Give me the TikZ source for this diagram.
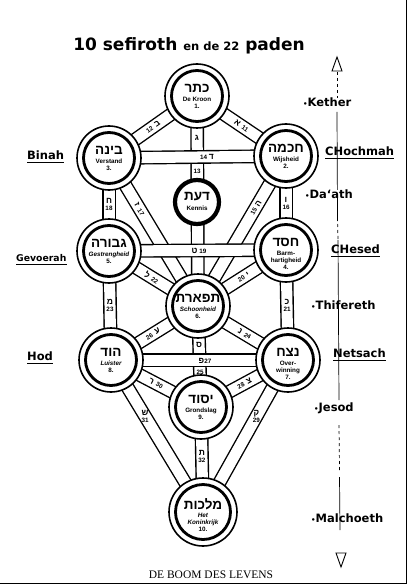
\documentclass[tikz,border=0pt]{standalone}
\usepackage{fontspec}
\setmainfont{Liberation Serif}
\newfontfamily\hebfont[Script=Hebrew]{Liberation Sans}
\newfontfamily\handfont{DejaVu Sans}
\newfontfamily\lblfont{Liberation Sans}
\TeXXeTstate=1
\newcommand\heb[1]{{\hebfont\bfseries\beginR #1\endR}}
\newcommand\hebs[1]{{\fontsize{8.5}{8.5}\selectfont\heb{#1}}}
\newcommand\dotb{{\fontsize{7}{7}\selectfont •}}
\pgfdeclarelayer{bg}
\pgfsetlayers{bg,main}
\tikzset{
  chan/.style={line width=1.4pt, double=white, double distance=11pt},
  ring/.style={circle, draw, line width=1.6pt, fill=white, inner sep=0pt},
  hebn/.style={inner sep=0pt, font=\fontsize{13.5}{13.5}\selectfont},
  nm/.style={inner sep=0pt, align=center, font=\lblfont\bfseries\fontsize{6.3}{7}\selectfont},
  plab/.style={inner sep=0pt, align=center, font=\lblfont\bfseries\fontsize{6.3}{7}\selectfont},
  hand/.style={inner sep=0pt, anchor=west, font=\handfont\bfseries\fontsize{11.5}{14}\selectfont},
  axisline/.style={line width=0.7pt},
  uline/.style={line width=0.9pt},
}
\newcommand\sefira[6]{%
  \node[ring, minimum size=#5] (#1) at (#2) {};
  \draw[line width=2.8pt] (#1.center) circle[radius=#6];
  \node[hebn] (#1-h) at ([yshift=8pt]#1.center) {\heb{#3}};
  \node[nm, anchor=north] (#1-n) at ([yshift=-1pt]#1.center) {#4};
}
\begin{document}
\begin{tikzpicture}[x=1pt,y=-1pt]
\useasboundingbox (0,0) rectangle (408,585);

% sefiroth
\sefira{K}{197,96}{כתר}{De Kroon\\1.}{64pt}{25.5pt}
\sefira{Bi}{109,158}{בינה}{Verstand\\3.}{64pt}{25.5pt}
\sefira{Ch}{286,156}{חכמה}{Wijsheid\\2.}{64pt}{25.5pt}
\sefira{Ge}{109,251}{גבורה}{\itshape Gestrengheid\\5.}{64pt}{25.5pt}
\sefira{He}{286,250}{חסד}{Barm-\\hartigheid\\4.}{64pt}{25.5pt}
\sefira{Ti}{198,306}{תפארת}{\itshape Schoonheid\\6.}{64pt}{25.5pt}
\sefira{Ho}{111,360}{הוד}{\itshape Luister\\8.}{64pt}{25.5pt}
\sefira{Ne}{288,360}{נצח}{Over-\\winning\\7.}{64pt}{25.5pt}
\sefira{Ye}{201,407}{יסוד}{Grondslag\\9.}{64pt}{25.5pt}
\sefira{Ma}{203,512}{מלכות}{\itshape Het\\\itshape Koninkrijk\\10.}{68pt}{27.5pt}
\node[circle, draw, line width=4.2pt, fill=white, minimum size=44pt, inner sep=0pt] (Da) at (197,202) {};
\node[hebn] (Da-h) at ([yshift=5pt]Da.center) {\heb{דעת}};
\node[nm] (Da-n) at ([yshift=-6pt]Da.center) {Kennis};

% channels
\begin{pgfonlayer}{bg}
\draw[chan] (K.center) -- (Ti.center);
\draw[chan] (K.center) -- (Bi.center);
\draw[chan] (K.center) -- (Ch.center);
\draw[chan] (Bi.center) -- (Ti.center);
\draw[chan] (Ch.center) -- (Ti.center);
\draw[chan] (Bi.center) -- (Ch.center);
\draw[chan] (Bi.center) -- (Ge.center);
\draw[chan] (Ch.center) -- (He.center);
\draw[chan] (Ge.center) -- (Ti.center);
\draw[chan] (He.center) -- (Ti.center);
\draw[chan] (Ge.center) -- (He.center);
\draw[chan] (Ge.center) -- (Ho.center);
\draw[chan] (He.center) -- (Ne.center);
\draw[chan] (Ti.center) -- (Ho.center);
\draw[chan] (Ti.center) -- (Ne.center);
\draw[chan] (Ti.center) -- (Ye.center);
\draw[chan] (Ho.center) -- (Ne.center);
\draw[chan] (Ho.center) -- (Ye.center);
\draw[chan] (Ne.center) -- (Ye.center);
\draw[chan] (Ho.center) -- (Ma.center);
\draw[chan] (Ne.center) -- (Ma.center);
\draw[chan] (Ye.center) -- (Ma.center);
\end{pgfonlayer}

% path labels
\path (K) -- node[plab, pos=.5, sloped] (p11) {\hebs{א}\enspace 11} (Ch);
\path (Bi) -- node[plab, pos=.5, sloped] (p12) {12\enspace\hebs{ב}} (K);
\node[plab] (p13a) at (197,138) {\hebs{ג}};
\node[plab] (p13b) at (197,171) {13};
\node[plab] (p14) at (207,157) {14\;\hebs{ד}};
\path (Ch) -- node[plab, pos=.25, sloped] (p15) {15\enspace\hebs{ה}} (Ti);
\path (Ch) -- node[plab, pos=.5] (p16) {\hebs{ו}\\16} (He);
\path (Bi) -- node[plab, pos=.25, sloped] (p17) {\hebs{ז}\enspace 17} (Ti);
\path (Bi) -- node[plab, pos=.5] (p18) {\hebs{ח}\\18} (Ge);
\node[plab] (p19) at (199,251) {\hebs{ט}\;19};
\path (He) -- node[plab, pos=.45, sloped] (p20) {20\enspace\hebs{י}} (Ti);
\path (He) -- node[plab, pos=.5] (p21) {\hebs{כ}\\21} (Ne);
\path (Ge) -- node[plab, pos=.45, sloped] (p22) {\hebs{ל}\enspace 22} (Ti);
\path (Ge) -- node[plab, pos=.5] (p23) {\hebs{מ}\\23} (Ho);
\path (Ti) -- node[plab, pos=.55, sloped] (p24) {\hebs{נ}\enspace 24} (Ne);
\node[plab] (p25a) at (199,345) {\hebs{ס}};
\node[plab] (p25b) at (200,372) {25};
\path (Ti) -- node[plab, pos=.55, sloped] (p26) {26\enspace\hebs{ע}} (Ho);
\node[plab] (p27) at (205,361) {\hebs{פ}27};
\path (Ne) -- node[plab, pos=.5, sloped] (p28) {28\enspace\hebs{צ}} (Ye);
\path (Ne) -- node[plab, pos=.3] (p29) {\hebs{ק}\\29} (Ma);
\path (Ho) -- node[plab, pos=.5, sloped] (p30) {\hebs{ר}\enspace 30} (Ye);
\path (Ho) -- node[plab, pos=.3] (p31) {\hebs{ש}\\31} (Ma);
\path (Ye) -- node[plab, pos=.45] (p32) {\hebs{ת}\\32} (Ma);

% title
\node[inner sep=0pt, font=\handfont\bfseries] (title) at (189,46)
  {\fontsize{17}{17}\selectfont 10 sefiroth {\fontsize{11.5}{11.5}\selectfont en de 22} paden};

% left labels
\node[hand] (lBi) at (27,155) {Binah};
\node[hand, font=\handfont\bfseries\fontsize{9.3}{11}\selectfont] (lGe) at (16,258) {Gevoerah};
\node[hand] (lHo) at (27,356) {Hod};
\draw[uline] ([yshift=-2.5pt]lBi.south west) -- ([yshift=-2.5pt]lBi.south east);
\draw[uline] ([yshift=-2.5pt]lGe.south west) -- ([yshift=-2.5pt]lGe.south east);
\draw[uline] ([yshift=-2.5pt]lHo.south west) -- ([yshift=-2.5pt]lHo.south east);

% right axis
\draw[line width=0.9pt] (332,71) -- (337,57) -- (342,71) -- cycle;
\draw[axisline, dashed] (337,72) -- (337,100);
\draw[axisline] (337,112) -- (337.5,218);
\draw[axisline, dashed] (337.5,218) -- (338,240);
\draw[axisline] (338,240) -- (339,400);
\draw[axisline, dashed] (339,425) -- (339.5,470);
\draw[axisline] (339.5,477) -- (340,530);
\draw[line width=0.9pt] (336,553) -- (346,553) -- (341,567) -- cycle;

% right labels
\node[hand, fill=white] (rK) at (303,102) {\dotb Kether};
\node[hand] (rCh) at (325,151) {CHochmah};
\node[hand, fill=white] (rDa) at (305,194) {\dotb Da‘ath};
\node[hand] (rHe) at (331,249) {CHesed};
\node[hand] (rTi) at (311,305) {\dotb Thifereth};
\node[hand] (rNe) at (333,353) {Netsach};
\node[hand] (rYe) at (314,408) {\dotb Jesod};
\node[hand] (rMa) at (311,518) {\dotb Malchoeth};
\draw[uline] ([yshift=-2.5pt]rCh.south west) -- ([yshift=-2.5pt]rCh.south east);
\draw[uline] ([yshift=-2.5pt]rHe.south west) -- ([yshift=-2.5pt]rHe.south east);
\draw[uline] ([yshift=-2.5pt]rNe.south west) -- ([yshift=-2.5pt]rNe.south east);

% caption
\node[inner sep=0pt, font=\fontsize{11.5}{12}\selectfont] (cap) at (211,575) {DE BOOM DES LEVENS};

% frame edges
\draw[line width=1pt] (406.5,0) -- (406.5,583.5) -- (0,583.5);
\end{tikzpicture}
\end{document}
